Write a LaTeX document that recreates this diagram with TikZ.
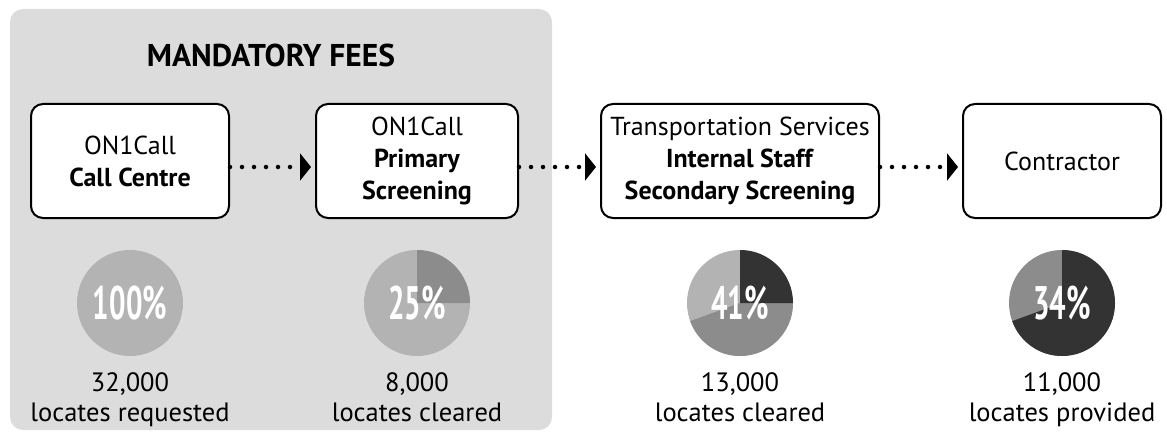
\documentclass[tikz,border=0pt]{standalone}
\usepackage{fontspec}
\setmainfont{PT Sans}
\usepackage{graphicx}
\usetikzlibrary{arrows.meta,positioning}
\definecolor{feegray}{RGB}{220,220,220}
\definecolor{pielight}{RGB}{179,179,179}
\definecolor{piemid}{RGB}{140,140,140}
\definecolor{piedark}{RGB}{51,51,51}
\tikzstyle{stage} = [draw=black, line width=2pt, rounded corners=12pt, fill=white, minimum height=114pt, align=center, inner sep=0pt, font=\fontsize{26}{32}\selectfont]
\tikzstyle{flow} = [line width=4.5pt, line cap=round, dash pattern=on 0pt off 12pt, -{Triangle[length=11pt,width=27pt]}, shorten >=4pt]
\tikzstyle{pct} = [text=white, font=\fontsize{47}{47}\selectfont\bfseries]
\tikzstyle{count} = [align=center, anchor=north, inner sep=0pt, font=\fontsize{26.5}{30}\selectfont]

\begin{document}
\begin{tikzpicture}[x=1pt,y=1pt]
\useasboundingbox (0,0) rectangle (1167,432);
% Mandatory fees panel
\fill[feegray, rounded corners=13pt] (10,2) rectangle (552,423);
\node[font=\fontsize{31.5}{36}\selectfont\bfseries] (fees) at (271,377) {MANDATORY FEES};

% Stages
\node[stage, minimum width=198pt] (callctr) at (130,271) {ON1Call\\\textbf{Call Centre}};
\node[stage, minimum width=202pt] (primary) at (417,271) {ON1Call\\\textbf{Primary}\\\textbf{Screening}};
\node[stage, minimum width=278pt] (secondary) at (740,271) {Transportation Services\\\textbf{Internal Staff}\\\textbf{Secondary Screening}};
\node[stage, minimum width=198pt] (contractor) at (1062,271) {Contractor};

% Dotted hand-offs
\draw[flow] ([yshift=-6pt]callctr.east) -- ([yshift=-6pt]primary.west);
\draw[flow] ([yshift=-6pt]primary.east) -- ([yshift=-6pt]secondary.west);
\draw[flow] ([yshift=-6pt]secondary.east) -- ([yshift=-6pt]contractor.west);

% Pies
\coordinate (p1) at (130,129);
\coordinate (p2) at (417,129);
\coordinate (p3) at (740,129);
\coordinate (p4) at (1062,129);
\fill[pielight] (p1) circle (53pt);
\fill[pielight] (p2) circle (53pt);
\fill[piemid] (p2) -- ++(90:53pt) arc[start angle=90, end angle=0, radius=53pt] -- cycle;
\fill[pielight] (p3) circle (53pt);
\fill[piemid] (p3) -- ++(0:53pt) arc[start angle=0, end angle=-160, radius=53pt] -- cycle;
\fill[piedark] (p3) -- ++(90:53pt) arc[start angle=90, end angle=0, radius=53pt] -- cycle;
\fill[piemid] (p4) circle (53pt);
\fill[piedark] (p4) -- ++(90:53pt) arc[start angle=90, end angle=-160, radius=53pt] -- cycle;

\node[pct] (pct1) at (p1) {\scalebox{0.62}[1]{100\%}};
\node[pct] (pct2) at (p2) {\scalebox{0.62}[1]{25\%}};
\node[pct] (pct3) at (p3) {\scalebox{0.62}[1]{41\%}};
\node[pct] (pct4) at (p4) {\scalebox{0.62}[1]{34\%}};

% Counts
\node[count] (cnt1) at ([yshift=-69pt]p1) {32,000\\locates requested};
\node[count] (cnt2) at ([yshift=-69pt]p2) {8,000\\locates cleared};
\node[count] (cnt3) at ([yshift=-69pt]p3) {13,000\\locates cleared};
\node[count] (cnt4) at ([yshift=-69pt]p4) {11,000\\locates provided};
\end{tikzpicture}
\end{document}
